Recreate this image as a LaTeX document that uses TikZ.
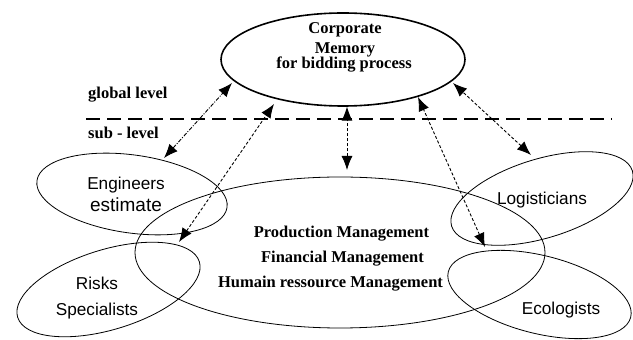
\documentclass[tikz,border=0pt]{standalone}
\usepackage{fontspec}
\setmainfont{Liberation Serif}
\newfontfamily\arialfont{Liberation Sans}
\usetikzlibrary{shapes.geometric,arrows.meta}
\tikzset{
  oval/.style={ellipse,draw,line width=0.8pt,inner sep=0pt},
  boldtxt/.style={font=\fontsize{16.5}{18}\selectfont\bfseries,inner sep=0pt,anchor=base},
  sanstxt/.style={font=\arialfont\fontsize{17.2}{19}\selectfont,inner sep=0pt,anchor=base},
  link/.style={line width=0.9pt,dash pattern=on 3pt off 2pt,
    {Latex[length=14pt,width=11pt]}-{Latex[length=14pt,width=11pt]}},
  linkdd/.style={link,dash pattern=on 4pt off 1.5pt on 1pt off 1.5pt},
  levelline/.style={line width=2pt,dash pattern=on 14pt off 7pt}
}
\begin{document}
\begin{tikzpicture}[x=1pt,y=1pt]
\useasboundingbox (0,0) rectangle (633,340);
% ellipses
\node[oval,line width=1.6pt,minimum width=244pt,minimum height=93pt] (corp) at (343,280.5) {};
\node[oval,minimum width=410pt,minimum height=151pt] (central) at (340,87.5) {};
\node[oval,minimum width=192pt,minimum height=78pt,rotate=-8] (eng) at (132,146) {};
\node[oval,minimum width=190pt,minimum height=80pt,rotate=17] (risk) at (108.5,50.5) {};
\node[oval,minimum width=189pt,minimum height=79pt,rotate=17] (logi) at (542,141.5) {};
\node[oval,minimum width=188pt,minimum height=78pt,rotate=-14] (eco) at (539.5,45.5) {};
% texts
\node[boldtxt] (t1) at (345,306.7) {Corporate};
\node[boldtxt] (t2) at (345,286.7) {Memory};
\node[boldtxt] (t3) at (344,271.7) {for bidding process};
\node[boldtxt,anchor=base west] (gl) at (88,241.7) {global level};
\node[boldtxt,anchor=base west] (sl) at (88,201.7) {sub - level};
\node[boldtxt] (p1) at (341.5,102) {Production Management};
\node[boldtxt] (p2) at (342.5,77) {Financial Management};
\node[boldtxt] (p3) at (330.5,52) {Humain ressource Management};
\node[sanstxt] (e1) at (126,150) {Engineers};
\node[sanstxt,font=\arialfont\fontsize{19}{21}\selectfont] (e2) at (126,128.3) {estimate};
\node[sanstxt] (lg) at (542,135) {Logisticians};
\node[sanstxt] (ec) at (561,25) {Ecologists};
\node[sanstxt] (r1) at (97,50) {Risks};
\node[sanstxt] (r2) at (97,24) {Specialists};
% level line
\coordinate (dl1) at (86,221);
\coordinate (dl2) at (612,221);
\draw[levelline] (dl1) -- (dl2);
% arrow ends
\coordinate (a1a) at (164,182);
\coordinate (a1b) at (232,257);
\coordinate (a2a) at (179,98);
\coordinate (a2b) at (274,236);
\coordinate (a3a) at (347,170);
\coordinate (a3b) at (347,233.3);
\coordinate (a4a) at (485,93);
\coordinate (a4b) at (418,243);
\coordinate (a5a) at (531,185);
\coordinate (a5b) at (453,257);
\draw[linkdd] (a1a) -- (a1b);
\draw[link] (a2a) -- (a2b);
\draw[link] (a3a) -- (a3b);
\draw[link] (a4a) -- (a4b);
\draw[link] (a5a) -- (a5b);
\end{tikzpicture}
\end{document}
